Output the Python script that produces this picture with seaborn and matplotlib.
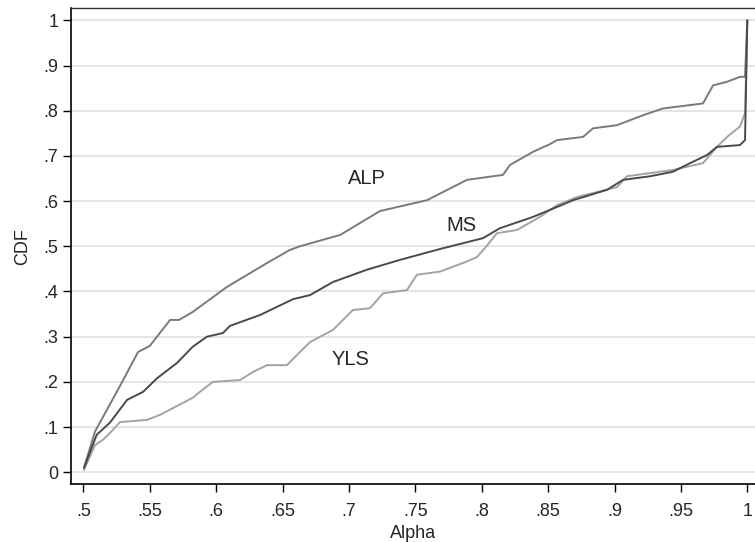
import pandas as pd
import seaborn as sns
import matplotlib.pyplot as plt

# points (alpha, cdf)
alp_x = [0.5005, 0.5088, 0.5289, 0.5412, 0.5502, 0.5653, 0.5720, 0.5825, 0.6081, 0.6383, 0.6556,
         0.6631, 0.6933, 0.7234, 0.7588, 0.7889, 0.8160, 0.8213, 0.8386, 0.8514, 0.8567,
         0.8763, 0.8838, 0.9019, 0.9215, 0.9365, 0.9666, 0.9742, 0.9847, 0.9945, 0.9983, 1.0]
alp_y = [0.01, 0.09, 0.198, 0.266, 0.28, 0.337, 0.337, 0.355, 0.41, 0.463, 0.492,
         0.50, 0.525, 0.578, 0.602, 0.647, 0.658, 0.68, 0.709, 0.726, 0.735,
         0.742, 0.761, 0.768, 0.79, 0.805, 0.816, 0.856, 0.864, 0.875, 0.875, 1.0]

ms_x = [0.5005, 0.5101, 0.5201, 0.5329, 0.5450, 0.5555, 0.5706, 0.5825, 0.5931, 0.6051,
        0.6105, 0.6331, 0.6579, 0.6707, 0.6880, 0.7134, 0.7385, 0.7686, 0.8010, 0.8137,
        0.8386, 0.8567, 0.8688, 0.8944, 0.9064, 0.9268, 0.9441, 0.9569, 0.9697, 0.9772,
        0.9945, 0.9983, 1.0]
ms_y = [0.01, 0.083, 0.11, 0.16, 0.178, 0.208, 0.242, 0.278, 0.30, 0.308,
        0.324, 0.348, 0.383, 0.392, 0.421, 0.448, 0.47, 0.494, 0.518, 0.54,
        0.565, 0.587, 0.602, 0.625, 0.647, 0.655, 0.665, 0.684, 0.702, 0.72,
        0.724, 0.735, 1.0]

yls_x = [0.5005, 0.5088, 0.5148, 0.5201, 0.5276, 0.5480, 0.5578, 0.5675, 0.5825, 0.5878,
         0.5976, 0.6180, 0.6278, 0.6383, 0.6533, 0.6631, 0.6707, 0.6880, 0.7030, 0.7159,
         0.7257, 0.7437, 0.7512, 0.7686, 0.7859, 0.7964, 0.8024, 0.8115, 0.8265, 0.8438,
         0.8567, 0.8718, 0.9019, 0.9094, 0.9268, 0.9441, 0.9666, 0.9772, 0.9847, 0.9945,
         0.9983, 1.0]
yls_y = [0.005, 0.06, 0.072, 0.087, 0.111, 0.116, 0.127, 0.142, 0.165, 0.178,
         0.20, 0.204, 0.222, 0.237, 0.237, 0.266, 0.288, 0.315, 0.359, 0.363,
         0.396, 0.403, 0.437, 0.444, 0.463, 0.476, 0.496, 0.529, 0.536, 0.565,
         0.591, 0.609, 0.631, 0.655, 0.662, 0.669, 0.684, 0.72, 0.742, 0.765,
         0.795, 1.0]

x_ticks = [0.5, 0.55, 0.6, 0.65, 0.7, 0.75, 0.8, 0.85, 0.9, 0.95, 1.0]
x_labels = ['.5', '.55', '.6', '.65', '.7', '.75', '.8', '.85', '.9', '.95', '1']
y_ticks = [0, 0.1, 0.2, 0.3, 0.4, 0.5, 0.6, 0.7, 0.8, 0.9, 1.0]
y_labels = ['0', '.1', '.2', '.3', '.4', '.5', '.6', '.7', '.8', '.9', '1']

df = pd.concat([
    pd.DataFrame({'Alpha': yls_x, 'CDF': yls_y, 'method': 'YLS'}),
    pd.DataFrame({'Alpha': alp_x, 'CDF': alp_y, 'method': 'ALP'}),
    pd.DataFrame({'Alpha': ms_x, 'CDF': ms_y, 'method': 'MS'}),
])

sns.set_style('white')
plt.rcParams['font.family'] = ['Liberation Sans', 'DejaVu Sans']

fig = plt.figure(figsize=(7.55, 5.42), dpi=100)
ax = fig.add_axes([0.094, 0.107, 0.906, 0.878])

pal = {'YLS': '#a3a3a3', 'ALP': '#7a7a7a', 'MS': '#4a4a4a'}
sns.lineplot(data=df, x='Alpha', y='CDF', hue='method', palette=pal, estimator=None,
             linewidth=1.4, legend=False, ax=ax)

ax.set_xlim(0.4907, 1.0058)
ax.set_ylim(-0.026, 1.027)
ax.set_xticks(x_ticks)
ax.set_xticklabels(x_labels)
ax.set_yticks(y_ticks)
ax.set_yticklabels(y_labels)
ax.tick_params(axis='both', direction='out', length=6, width=1, color='black',
               labelsize=13, left=True, bottom=True)
ax.tick_params(axis='x', pad=8)
ax.tick_params(axis='y', pad=3)
for y in y_ticks:
    ax.axhline(y, color='#e3e3e3', linewidth=1.3, zorder=0)

ax.set_xlabel('Alpha', fontsize=13, labelpad=3)
ax.set_ylabel('CDF', fontsize=13, labelpad=9)

for side in ['left', 'bottom']:
    ax.spines[side].set_color('black')
    ax.spines[side].set_linewidth(1.2)
ax.spines['top'].set_color('#333333')
ax.spines['top'].set_linewidth(1.0)
ax.spines['right'].set_visible(False)

ax.text(0.7134, 0.651, 'ALP', fontsize=14.5, ha='center', va='center')
ax.text(0.785, 0.547, 'MS', fontsize=14.5, ha='center', va='center')
ax.text(0.7015, 0.249, 'YLS', fontsize=14.5, ha='center', va='center')

plt.savefig('out.png', dpi=100)
